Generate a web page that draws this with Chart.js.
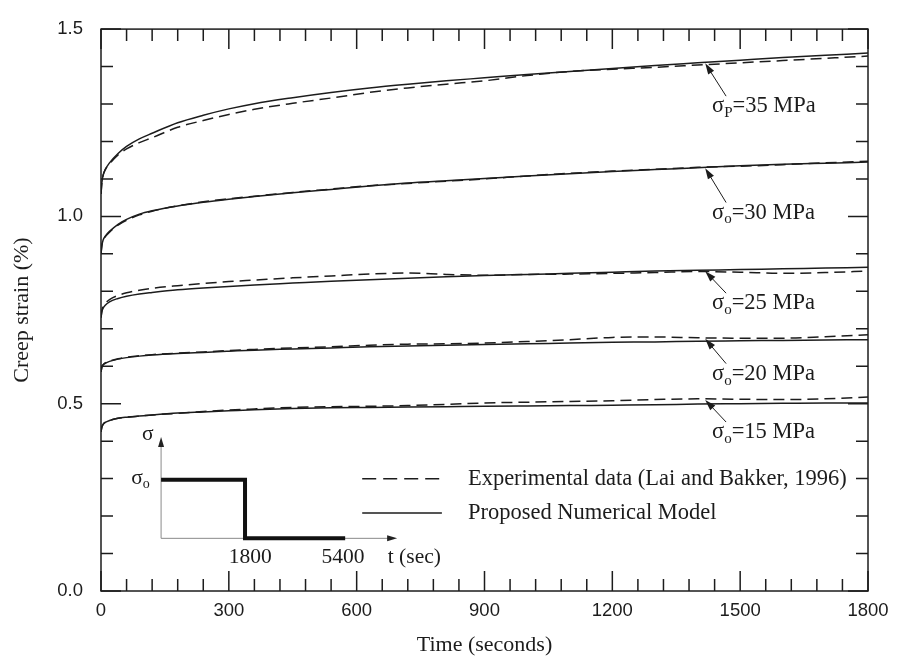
<!DOCTYPE html>
<html>
<head>
<meta charset="utf-8">
<title>Creep strain</title>
<script src="https://cdn.jsdelivr.net/npm/chart.js@4.4.1/dist/chart.umd.min.js"></script>
<style>
    html, body { margin: 0; padding: 0; background: #fff; }
    #wrap { width: 898px; height: 660px; }
</style>
</head>
<body>
<div id="wrap"><canvas id="creep-chart" width="898" height="660"></canvas></div>
<script>
// time axis (s) shared by every curve
var timeSec = [0, 2, 5, 10, 20, 40, 60, 90, 120, 180, 240, 300, 360, 450, 540, 630, 720, 810, 900, 1000, 1100, 1200, 1300, 1400, 1500, 1600, 1700, 1800];

// creep strain (%) - numerical model
var model35 = [1.06, 1.09, 1.11, 1.125, 1.143, 1.168, 1.187, 1.207, 1.222, 1.25, 1.27, 1.287, 1.301, 1.317, 1.331, 1.343, 1.353, 1.362, 1.37, 1.379, 1.387, 1.395, 1.403, 1.41, 1.417, 1.424, 1.43, 1.436];
var model30 = [0.9, 0.922, 0.937, 0.947, 0.96, 0.979, 0.992, 1.006, 1.015, 1.028, 1.038, 1.046, 1.053, 1.063, 1.072, 1.081, 1.089, 1.095, 1.101, 1.108, 1.114, 1.12, 1.125, 1.13, 1.135, 1.139, 1.142, 1.145];
var model25 = [0.73, 0.745, 0.755, 0.763, 0.772, 0.781, 0.787, 0.793, 0.797, 0.804, 0.809, 0.813, 0.817, 0.822, 0.827, 0.831, 0.835, 0.839, 0.842, 0.845, 0.848, 0.851, 0.854, 0.856, 0.858, 0.86, 0.862, 0.864];
var model20 = [0.585, 0.597, 0.604, 0.608, 0.613, 0.619, 0.623, 0.627, 0.63, 0.634, 0.637, 0.64, 0.643, 0.646, 0.649, 0.652, 0.654, 0.656, 0.658, 0.66, 0.662, 0.664, 0.665, 0.667, 0.668, 0.669, 0.67, 0.671];
var model15 = [0.425, 0.437, 0.445, 0.45, 0.455, 0.461, 0.464, 0.467, 0.47, 0.475, 0.478, 0.481, 0.484, 0.487, 0.489, 0.49, 0.491, 0.492, 0.493, 0.494, 0.495, 0.496, 0.497, 0.499, 0.5, 0.501, 0.502, 0.502];

// creep strain (%) - experimental data (Lai and Bakker, 1996)
var test35 = [1.06, 1.09, 1.11, 1.125, 1.14, 1.164, 1.18, 1.197, 1.21, 1.238, 1.256, 1.272, 1.286, 1.302, 1.316, 1.331, 1.343, 1.353, 1.362, 1.376, 1.387, 1.393, 1.398, 1.404, 1.41, 1.416, 1.422, 1.428];
var test30 = [0.9, 0.922, 0.936, 0.946, 0.958, 0.977, 0.99, 1.004, 1.014, 1.028, 1.039, 1.047, 1.054, 1.064, 1.073, 1.082, 1.088, 1.094, 1.1, 1.108, 1.115, 1.121, 1.126, 1.131, 1.134, 1.138, 1.143, 1.147];
var test25 = [0.73, 0.748, 0.76, 0.768, 0.778, 0.789, 0.796, 0.803, 0.808, 0.815, 0.821, 0.826, 0.83, 0.836, 0.841, 0.846, 0.849, 0.845, 0.843, 0.845, 0.846, 0.848, 0.85, 0.853, 0.851, 0.848, 0.85, 0.854];
var test20 = [0.585, 0.597, 0.604, 0.609, 0.614, 0.62, 0.624, 0.628, 0.631, 0.635, 0.638, 0.642, 0.645, 0.649, 0.652, 0.656, 0.659, 0.66, 0.662, 0.666, 0.671, 0.677, 0.678, 0.676, 0.675, 0.675, 0.679, 0.684];
var test15 = [0.425, 0.437, 0.445, 0.45, 0.455, 0.461, 0.464, 0.467, 0.47, 0.474, 0.479, 0.483, 0.486, 0.49, 0.492, 0.493, 0.495, 0.498, 0.502, 0.504, 0.506, 0.508, 0.511, 0.513, 0.512, 0.511, 0.513, 0.518];

// stress levels and where their labels sit (label strain)
var stressValues = [35, 30, 25, 20, 15];
var stressSubs = ['P', 'o', 'o', 'o', 'o'];
var labelStrain = [1.297, 1.013, 0.771, 0.583, 0.427];
var modelSeries = [model35, model30, model25, model20, model15];
var testSeries = [test35, test30, test25, test20, test15];

var xTicks = { min: 0, max: 1800, step: 300, minor: 60 };
var yTicks = { min: 0, max: 1.5, step: 0.5, minor: 0.1 };

var legendNames = ['Experimental data (Lai and Bakker, 1996)', 'Proposed Numerical Model'];
var insetTickLabels = ['1800', '5400'];

var ink = '#1c1c1c';
var serif = "'Liberation Serif', 'Times New Roman', serif";
var sans = "'Liberation Sans', Arial, sans-serif";

function toPoints(arr) {
    return timeSec.map(function (t, i) { return { x: t, y: arr[i] }; });
}

function valueAt(arr, t) {
    for (var i = 1; i < timeSec.length; i++) {
        if (t <= timeSec[i]) {
            var f = (t - timeSec[i - 1]) / (timeSec[i] - timeSec[i - 1]);
            return arr[i - 1] + f * (arr[i] - arr[i - 1]);
        }
    }
    return arr[arr.length - 1];
}

var datasets = [];
stressValues.forEach(function (s, k) {
    datasets.push({
        label: 'model ' + s,
        data: toPoints(modelSeries[k]),
        borderColor: ink,
        borderWidth: 1.5
    });
    datasets.push({
        label: 'test ' + s,
        data: toPoints(testSeries[k]),
        borderColor: ink,
        borderWidth: 1.5,
        borderDash: [11, 6]
    });
});

function arrow(ctx, x0, y0, x1, y1, headLen, headW) {
    var a = Math.atan2(y1 - y0, x1 - x0);
    ctx.beginPath();
    ctx.moveTo(x0, y0);
    ctx.lineTo(x1 - Math.cos(a) * headLen * 0.6, y1 - Math.sin(a) * headLen * 0.6);
    ctx.stroke();
    ctx.beginPath();
    ctx.moveTo(x1, y1);
    ctx.lineTo(x1 - Math.cos(a) * headLen - Math.sin(a) * headW, y1 - Math.sin(a) * headLen + Math.cos(a) * headW);
    ctx.lineTo(x1 - Math.cos(a) * headLen + Math.sin(a) * headW, y1 - Math.sin(a) * headLen - Math.cos(a) * headW);
    ctx.closePath();
    ctx.fill();
}

// sigma with a subscript, then the rest of the text
function sigmaText(ctx, x, y, sub, rest, size) {
    ctx.textAlign = 'left';
    ctx.textBaseline = 'alphabetic';
    ctx.font = size + 'px ' + serif;
    ctx.fillText('σ', x, y);
    var w = ctx.measureText('σ').width;
    ctx.font = Math.round(size * 0.66) + 'px ' + serif;
    ctx.fillText(sub, x + w, y + size * 0.22);
    w += ctx.measureText(sub).width;
    if (rest) {
        ctx.font = size + 'px ' + serif;
        ctx.fillText(rest, x + w, y);
    }
}

// frame with inward ticks on all four sides
var framePlugin = {
    id: 'frame',
    afterDraw: function (chart) {
        var ctx = chart.ctx, a = chart.chartArea;
        var xs = chart.scales.x, ys = chart.scales.y;
        ctx.save();
        ctx.strokeStyle = ink;
        ctx.lineWidth = 1.5;
        ctx.strokeRect(a.left, a.top, a.right - a.left, a.bottom - a.top);
        ctx.beginPath();
        var n = Math.round((xTicks.max - xTicks.min) / xTicks.minor);
        for (var i = 0; i <= n; i++) {
            var px = xs.getPixelForValue(xTicks.min + i * xTicks.minor);
            var len = (i % 5 === 0) ? 20 : 12;
            ctx.moveTo(px, a.bottom); ctx.lineTo(px, a.bottom - len);
            ctx.moveTo(px, a.top); ctx.lineTo(px, a.top + len);
        }
        n = Math.round((yTicks.max - yTicks.min) / yTicks.minor);
        for (var j = 0; j <= n; j++) {
            var py = ys.getPixelForValue(yTicks.min + j * yTicks.minor);
            var l2 = (j % 5 === 0) ? 20 : 12;
            ctx.moveTo(a.left, py); ctx.lineTo(a.left + l2, py);
            ctx.moveTo(a.right, py); ctx.lineTo(a.right - l2, py);
        }
        ctx.stroke();
        ctx.restore();
    }
};

// stress labels with arrows, legend and loading-history inset
var notesPlugin = {
    id: 'notes',
    afterDatasetsDraw: function (chart) {
        var ctx = chart.ctx;
        var X = function (v) { return chart.scales.x.getPixelForValue(v); };
        var Y = function (v) { return chart.scales.y.getPixelForValue(v); };
        ctx.save();
        ctx.fillStyle = ink;
        ctx.strokeStyle = ink;

        stressValues.forEach(function (s, k) {
            var tipT = 1418;
            var top = Math.max(valueAt(modelSeries[k], tipT), valueAt(testSeries[k], tipT));
            ctx.lineWidth = 1;
            arrow(ctx, X(1467), Y(labelStrain[k]) - 9, X(tipT), Y(top) + 1, 11, 3.5);
            sigmaText(ctx, X(1434), Y(labelStrain[k]) + 7, stressSubs[k], '=' + s + ' MPa', 22.5);
        });

        // legend
        ctx.lineWidth = 1.5;
        ctx.setLineDash([14, 7]);
        ctx.beginPath();
        ctx.moveTo(X(613), Y(0.2995)); ctx.lineTo(X(800), Y(0.2995));
        ctx.stroke();
        ctx.setLineDash([]);
        ctx.beginPath();
        ctx.moveTo(X(613), Y(0.208)); ctx.lineTo(X(800), Y(0.208));
        ctx.stroke();
        ctx.font = '22.5px ' + serif;
        ctx.textAlign = 'left';
        ctx.textBaseline = 'middle';
        ctx.fillText(legendNames[0], X(861), Y(0.2995));
        ctx.fillText(legendNames[1], X(861), Y(0.208));

        // inset: stress history
        var ox = X(141), oy = Y(0.1406);
        ctx.strokeStyle = '#8a8a8a';
        ctx.fillStyle = '#222';
        ctx.lineWidth = 1;
        arrow(ctx, ox, oy, ox, Y(0.411), 10, 3);
        arrow(ctx, ox, oy, X(695), oy, 10, 3);
        ctx.strokeStyle = '#111';
        ctx.lineWidth = 4;
        ctx.lineJoin = 'miter';
        ctx.beginPath();
        ctx.moveTo(ox, Y(0.297));
        ctx.lineTo(X(338), Y(0.297));
        ctx.lineTo(X(338), oy);
        ctx.lineTo(X(573), oy);
        ctx.stroke();

        ctx.fillStyle = ink;
        ctx.font = '21.5px ' + serif;
        ctx.textAlign = 'center';
        ctx.textBaseline = 'middle';
        ctx.fillText('σ', X(110), Y(0.418));
        ctx.fillText(insetTickLabels[0], X(350), Y(0.0885));
        ctx.fillText(insetTickLabels[1], X(568), Y(0.0885));
        ctx.textAlign = 'left';
        ctx.fillText('t (sec)', X(673), Y(0.0885));
        sigmaText(ctx, X(71), Y(0.297) + 4, 'o', '', 21.5);
        ctx.restore();
    }
};

new Chart(document.getElementById('creep-chart'), {
    type: 'line',
    data: { datasets: datasets },
    plugins: [framePlugin, notesPlugin],
    options: {
        responsive: false,
        animation: false,
        layout: { padding: { top: 15, right: 30, left: 0, bottom: 0 } },
        elements: {
            point: { radius: 0 },
            line: { cubicInterpolationMode: 'monotone', fill: false }
        },
        plugins: {
            legend: { display: false },
            tooltip: { enabled: false }
        },
        scales: {
            x: {
                type: 'linear',
                min: xTicks.min,
                max: xTicks.max,
                grid: { display: false, drawTicks: false },
                border: { display: false },
                ticks: {
                    stepSize: xTicks.step,
                    padding: 9,
                    maxRotation: 0,
                    color: ink,
                    font: { family: sans, size: 18.5 },
                    callback: function (v) { return String(v); }
                },
                title: {
                    display: true,
                    text: 'Time (seconds)',
                    color: ink,
                    font: { family: serif, size: 22 },
                    padding: { top: 0, bottom: 2 }
                },
                afterFit: function (scale) { scale.height = 69; }
            },
            y: {
                type: 'linear',
                min: yTicks.min,
                max: yTicks.max,
                grid: { display: false, drawTicks: false },
                border: { display: false },
                ticks: {
                    stepSize: yTicks.step,
                    padding: 18,
                    color: ink,
                    font: { family: sans, size: 18.5 },
                    callback: function (v) { return v.toFixed(1); }
                },
                title: {
                    display: true,
                    text: 'Creep strain (%)',
                    color: ink,
                    font: { family: serif, size: 22 },
                    padding: { top: 9, bottom: 0 }
                },
                afterFit: function (scale) { scale.width = 101; }
            }
        }
    }
});
</script>
</body>
</html>
